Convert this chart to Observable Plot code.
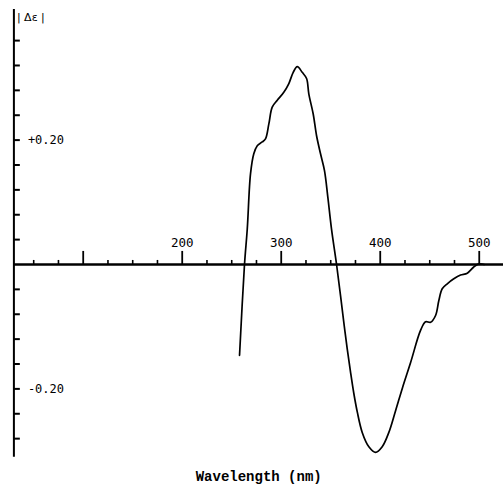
<!DOCTYPE html>
<html>
<head>
<meta charset="utf-8">
<script src="https://cdn.jsdelivr.net/npm/d3@7"></script>
<script src="https://cdn.jsdelivr.net/npm/@observablehq/plot@0.6"></script>
<style>
  html, body { margin: 0; padding: 0; background: #fff; }
  svg { display: block; }
</style>
</head>
<body>
<div id="chart"></div>
<script>
// Wavelength (nm) and Δε
const wavelength = [257.9, 262.9, 265.7, 269.0, 272.3, 275.8, 280.8, 284.1, 287.5, 290.9, 296.0, 302.6, 307.7, 312.1, 316.2, 321.2, 325.6, 327.9, 332.3, 335.7, 339.7, 343.7, 347.1, 350.8, 355.9, 359.9, 363.2, 366.7, 370.0, 373.3, 376.8, 381.8, 388.5, 395.3, 402.0, 408.7, 415.5, 422.5, 430.6, 440.7, 445.8, 450.8, 455.9, 459.2, 462.6, 467.7, 474.3, 481.1, 487.9, 494.5, 499.6, 505];
const deltaEps = [-0.146, 0, 0.057, 0.146, 0.178, 0.191, 0.197, 0.202, 0.226, 0.253, 0.264, 0.277, 0.291, 0.309, 0.318, 0.309, 0.299, 0.274, 0.242, 0.207, 0.178, 0.151, 0.108, 0.057, 0, -0.050, -0.093, -0.136, -0.173, -0.207, -0.237, -0.270, -0.293, -0.302, -0.293, -0.270, -0.235, -0.198, -0.158, -0.106, -0.092, -0.093, -0.082, -0.058, -0.039, -0.031, -0.023, -0.017, -0.014, -0.004, 0.001, 0];

const xMinorTicks = [50, 75, 125, 150, 175, 225, 250, 275, 325, 350, 375, 425, 450, 475];
const xMajorTicks = [100, 200, 300, 400, 500];
const xTickLabels = ["200", "300", "400", "500"];
const xTickLabelValues = [200, 300, 400, 500];
const yTicks = [0.36, 0.32, 0.28, 0.24, 0.20, 0.16, 0.12, 0.08, 0.04, -0.04, -0.08, -0.12, -0.16, -0.20, -0.24, -0.28];
const yTickLabelValues = [0.20, -0.20];
const yTickLabels = ["+0.20", "-0.20"];
const yAxisTitle = "|\u00a0Δε\u00a0|";
const xAxisTitle = "Wavelength (nm)";

const xDomain = [30, 524.5];
const yDomain = [-0.31, 0.41];

const data = wavelength.map((w, i) => ({w, e: deltaEps[i]}));
const xLab = xTickLabelValues.map((v, i) => ({v, t: xTickLabels[i]}));
const yLab = yTickLabelValues.map((v, i) => ({v, t: yTickLabels[i]}));

const mono = "'DejaVu Sans Mono', 'Liberation Mono', monospace";

const chart = Plot.plot({
  width: 503,
  height: 484,
  marginLeft: 13.4,
  marginRight: 0,
  marginTop: 9,
  marginBottom: 27.2,
  x: {domain: xDomain, axis: null},
  y: {domain: yDomain, axis: null},
  style: {background: "#fff", color: "#000", fontFamily: mono},
  marks: [
    // y axis line
    Plot.ruleX([xDomain[0]], {y1: yDomain[0], y2: yDomain[1], stroke: "#000", strokeWidth: 2}),
    // y ticks pointing right
    Plot.ruleY(yTicks, {y: d => d, x1: xDomain[0], x2: xDomain[0] + 6.5, stroke: "#000", strokeWidth: 2}),
    Plot.text(yLab, {x: xDomain[0], y: "v", text: "t", dx: 14, textAnchor: "start", fontSize: 12, fill: "#000"}),
    // x axis line at zero
    Plot.ruleY([0], {x1: xDomain[0], x2: xDomain[1], stroke: "#000", strokeWidth: 2.5}),
    // x ticks pointing up
    Plot.ruleX(xMinorTicks, {x: d => d, y1: 0, y2: 0.0065, stroke: "#000", strokeWidth: 1.6}),
    Plot.ruleX(xMajorTicks, {x: d => d, y1: 0, y2: 0.021, stroke: "#000", strokeWidth: 1.8}),
    Plot.text(xLab, {x: "v", y: 0, text: "t", dy: -21, fontSize: 12.5, fill: "#000"}),
    // titles
    Plot.text([yAxisTitle], {frameAnchor: "top-left", dx: 3, dy: 8, lineAnchor: "middle", textAnchor: "start", fontSize: 11, fontFamily: "'DejaVu Sans', sans-serif", fill: "#000"}),
    Plot.text([xAxisTitle], {frameAnchor: "bottom", dy: 19.5, lineAnchor: "middle", fontSize: 14, fontWeight: "bold", fontFamily: "'Liberation Mono', 'DejaVu Sans Mono', monospace", fill: "#000"}),
    // CD curve
    Plot.line(data, {x: "w", y: "e", stroke: "#000", strokeWidth: 1.7, curve: "catmull-rom"})
  ]
});

document.getElementById("chart").append(chart);
</script>
</body>
</html>
